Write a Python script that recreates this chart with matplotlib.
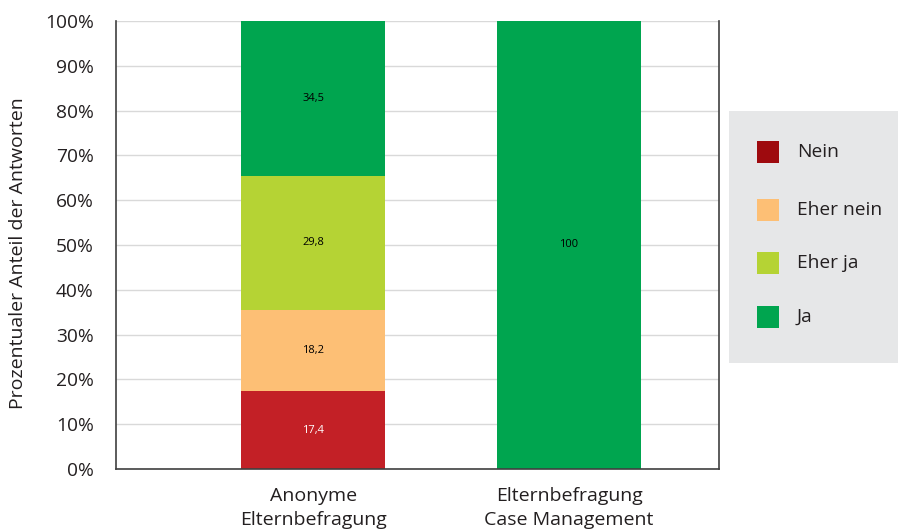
import matplotlib.pyplot as plt
from matplotlib.patches import Rectangle

# survey answers in percent per group
groups = ["Anonyme\nElternbefragung", "Elternbefragung\nCase Management"]
answers = ["Nein", "Eher nein", "Eher ja", "Ja"]
nein = [17.4, 0]
eher_nein = [18.2, 0]
eher_ja = [29.8, 0]
ja = [34.5, 100]
value_labels = [["17,4", ""], ["18,2", ""], ["29,8", ""], ["34,5", "100"]]

bar_colors = ["#C32026", "#FDBF75", "#B5D334", "#00A54F"]
legend_colors = ["#9E0A0E", "#FDBF75", "#B5D334", "#00A54F"]
text_colors = ["white", "black", "black", "black"]

plt.rcParams['font.family'] = ['Open Sans', 'DejaVu Sans']

fig = plt.figure(figsize=(8.98, 5.30), dpi=100)
ax = fig.add_axes([0.1292, 0.1151, 0.6715, 0.8453])

x = list(range(len(groups)))
bottom = [0, 0]
for series, color, tcol, labels in zip([nein, eher_nein, eher_ja, ja], bar_colors, text_colors, value_labels):
    ax.bar(x, series, bottom=bottom, width=0.5625, color=color, zorder=2)
    for i, v in enumerate(series):
        if labels[i]:
            ax.text(x[i], bottom[i] + v / 2, labels[i], ha='center', va='center',
                    fontsize=8, color=tcol, zorder=3)
    bottom = [b + v for b, v in zip(bottom, series)]

ax.set_xlim(-0.77, 1.586)
ax.set_ylim(0, 100)
ax.set_yticks(range(0, 101, 10))
ax.set_yticklabels([f"{t}%" for t in range(0, 101, 10)])
ax.set_xticks(x)
ax.set_xticklabels(groups, fontsize=14, color="#231F20", linespacing=1.4)
ax.tick_params(axis='y', labelsize=13.8, colors="#231F20", length=0, pad=16)
ax.tick_params(axis='x', length=0, pad=13)
ax.grid(axis='y', color="#D9D9D9", linewidth=1, zorder=0)
ax.set_axisbelow(True)
ax.spines['top'].set_visible(False)
for s in ['left', 'bottom', 'right']:
    ax.spines[s].set_color("#404040")
    ax.spines[s].set_linewidth(1.2)
ax.set_ylabel("Prozentualer Anteil der Antworten", fontsize=14, color="#231F20")
ax.yaxis.set_label_coords(-0.1476, 0.482)

# legend box drawn in figure pixels
W, H = 898, 530
fig.patches.append(Rectangle((729 / W, (H - 363) / H), 169 / W, 252 / H,
                             transform=fig.transFigure, facecolor="#E6E7E8",
                             edgecolor="none", zorder=0))
ys = [152, 210, 263, 317]
for name, color, yc in zip(answers, legend_colors, ys):
    fig.patches.append(Rectangle((757 / W, (H - yc - 11) / H), 22 / W, 22 / H,
                                 transform=fig.transFigure, facecolor=color,
                                 edgecolor="none", zorder=1))
    fig.text(797 / W, (H - yc) / H, name, ha='left', va='center', fontsize=13.8,
             color="#231F20")

fig.savefig("out.png", dpi=100)
